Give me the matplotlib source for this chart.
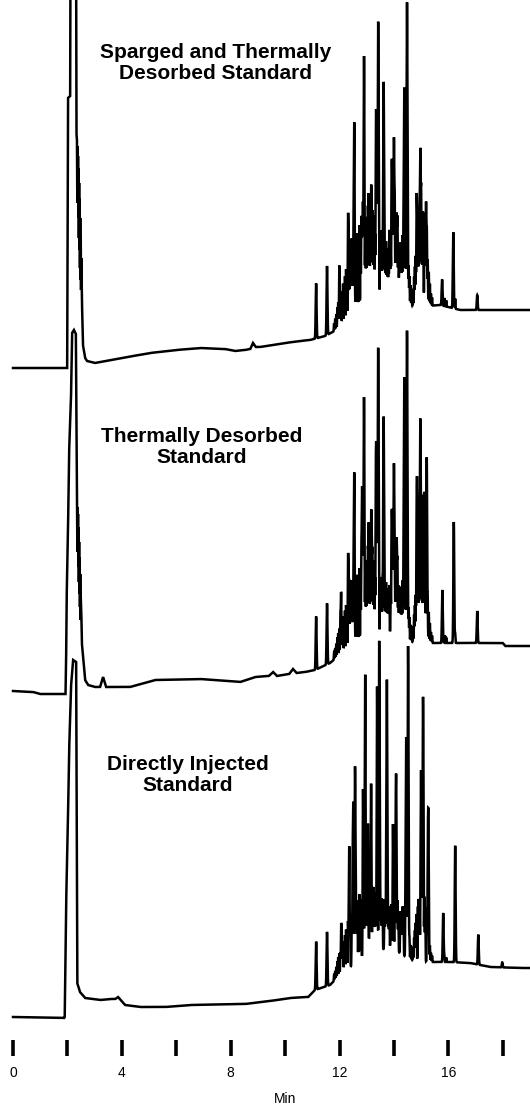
import numpy as np
import matplotlib
matplotlib.use("Agg")
import matplotlib.pyplot as plt

plt.rcParams['font.family'] = ['Liberation Sans', 'DejaVu Sans']

# ---------------- data (retention time in min, detector response in arbitrary units) ----------------
titles = ["Sparged and Thermally\nDesorbed Standard",
          "Thermally Desorbed\nStandard",
          "Directly Injected\nStandard"]

# Top trace: sparged and thermally desorbed standard
top_base_t = [0, 1.99, 2.02, 2.10, 2.13, 2.31, 2.33, 2.35, 2.36, 2.37, 2.38, 2.39, 2.40, 2.41, 2.42, 2.43,
              2.44, 2.45, 2.46, 2.47, 2.48, 2.49, 2.50, 2.51, 2.53, 2.57, 2.65, 2.72, 3.01, 4.0, 5.04, 6.0,
              6.88, 7.79, 8.16, 8.53, 8.72, 8.82, 8.92, 9.08, 10.0, 10.55, 10.92, 11.47, 12.02, 12.76,
              13.49, 14.23, 14.71, 15.7, 16.43, 17.17, 19.0]
top_base_y = [0, 0, 270, 272, 600, 600, 235, 228, 180, 222, 165, 212, 150, 200, 130, 185,
              118, 170, 100, 150, 88, 130, 78, 110, 71, 23, 10, 7, 5, 10, 15, 18,
              20, 19, 17, 18, 19, 25, 21, 21, 25, 27, 28, 32, 40, 55,
              65, 70, 61, 63, 58, 58, 58]
top_pk_t = [11.14, 11.54, 12.00, 12.33, 12.42, 12.54, 12.83, 12.90, 13.07, 13.18, 13.35, 13.42, 13.62,
            13.85, 13.93, 14.00, 14.10, 14.20, 14.38, 14.48, 14.85, 14.97, 15.18, 15.77, 16.18, 17.06]
top_pk_h = [55, 69, 38, 92, 67, 195, 85, 255, 115, 86, 185, 282, 220,
            34, 133, 162, 86, 35, 213, 300, 94, 158, 104, 26, 76, 15]

# Middle trace: thermally desorbed standard
mid_base_t = [0, 0.74, 0.99, 1.93, 1.95, 1.97, 2.02, 2.06, 2.13, 2.17, 2.24, 2.31, 2.35, 2.36, 2.37, 2.38,
              2.39, 2.40, 2.41, 2.42, 2.43, 2.44, 2.45, 2.46, 2.47, 2.48, 2.49, 2.51, 2.53, 2.65, 2.76,
              3.01, 3.20, 3.31, 3.42, 4.30, 5.22, 6.88, 8.35, 8.90, 9.40, 9.56, 9.70, 10.15, 10.29,
              10.42, 10.74, 11.10, 11.65, 12.02, 12.39, 12.76, 13.13, 13.49, 13.86, 14.23, 14.60,
              14.96, 15.33, 18.00, 18.09, 19.0]
mid_base_y = [1, 0, -2, -2, 27, 92, 159, 239, 292, 359, 362, 358, 192, 160, 185, 140,
              178, 125, 165, 110, 150, 98, 135, 85, 118, 72, 95, 80, 49, 12, 7,
              5, 5, 15, 5, 5, 12, 13, 10, 15, 16, 20, 16, 18, 23,
              19, 20, 22, 29, 37, 39, 45, 50, 50, 59, 55, 49,
              52, 49, 49, 46, 46]
mid_pk_t = [11.14, 11.54, 12.05, 12.33, 12.42, 12.54, 12.83, 12.90, 13.07, 13.18, 13.35, 13.42, 13.62,
            13.93, 14.00, 14.10, 14.20, 14.38, 14.48, 14.85, 14.97, 15.10, 15.20, 15.78, 16.20, 17.06]
mid_pk_h = [53, 61, 35, 86, 56, 178, 159, 248, 120, 112, 192, 294, 222,
            117, 171, 98, 44, 262, 310, 158, 221, 130, 147, 53, 121, 32]

# Bottom trace: directly injected standard
bot_base_t = [0, 1.88, 1.90, 1.95, 2.02, 2.06, 2.13, 2.21, 2.32, 2.34, 2.36, 2.46, 2.65, 3.20, 3.57,
              3.76, 3.86, 3.96, 4.12, 4.67, 5.59, 6.51, 8.53, 9.45, 10.18, 10.85, 11.10, 11.65, 12.02,
              12.39, 12.76, 13.13, 13.49, 13.86, 14.23, 14.60, 15.33, 16.07, 16.80, 17.54, 18.64, 19.0]
bot_base_y = [0, -1, 0, 110, 197, 264, 330, 357, 355, 200, 34, 25, 19, 17, 18,
              18, 20, 17, 12, 10, 10, 12, 13, 16, 19, 20, 27, 32, 42,
              50, 57, 60, 67, 70, 64, 57, 55, 55, 54, 50, 49, 49]
bot_pk_t = [11.14, 11.54, 12.07, 12.35, 12.50, 12.57, 12.87, 12.94, 13.05, 13.16, 13.38, 13.46, 13.74,
            13.97, 14.08, 14.45, 14.52, 14.99, 15.07, 15.26, 15.81, 16.25, 17.10, 17.98]
bot_pk_h = [48, 54, 28, 85, 127, 197, 121, 237, 85, 114, 204, 278, 232,
            87, 172, 175, 290, 139, 198, 149, 49, 109, 30, 5]

# Unresolved minor components (dense region), shared pattern
minor_t = [11.80, 11.84, 11.88, 11.92, 11.95, 11.99, 12.03, 12.06, 12.10, 12.13, 12.17, 12.20, 12.24,
           12.27, 12.31, 12.36, 12.39, 12.45, 12.48, 12.51, 12.60, 12.63, 12.66, 12.70, 12.73, 12.77,
           12.80, 12.86, 12.95, 12.98, 13.01, 13.04, 13.10, 13.13, 13.16, 13.21, 13.24, 13.27, 13.30,
           13.33, 13.38, 13.45, 13.49, 13.52, 13.55, 13.58, 13.65, 13.68, 13.71, 13.74, 13.77, 13.80,
           13.83, 13.88, 13.91, 13.96, 14.03, 14.06, 14.13, 14.16, 14.23, 14.26, 14.29, 14.32, 14.35,
           14.42, 14.45, 14.51, 14.54, 14.57, 14.61, 14.65, 14.70, 14.74, 14.77, 14.80, 14.83, 14.88,
           14.91, 14.94, 15.00, 15.03, 15.06, 15.08, 15.12, 15.15, 15.21, 15.24, 15.28, 15.32, 15.36,
           15.40, 15.85, 15.92, 16.25]
minor_h = [8, 12, 16, 22, 26, 30, 28, 36, 32, 42, 38, 48, 54,
           44, 58, 62, 56, 68, 60, 64, 74, 82, 70, 78, 88, 72,
           80, 84, 90, 78, 92, 80, 74, 86, 78, 80, 90, 76, 70,
           78, 82, 66, 72, 62, 68, 58, 66, 54, 60, 48, 52, 44,
           54, 42, 58, 64, 74, 62, 66, 54, 46, 56, 48, 64, 58,
           52, 60, 46, 38, 28, 20, 14, 18, 30, 40, 50, 62, 72,
           82, 76, 90, 80, 86, 78, 84, 72, 58, 46, 34, 22, 12,
           8, 8, 6, 10]
minor_scale = [1.0, 0.9, 0.75]

x_major = [0, 4, 8, 12, 16]
x_minor = [2, 6, 10, 14, 18]

# ---------------- figure ----------------
W, H = 530, 1105
fig = plt.figure(figsize=(W / 100, H / 100), dpi=100)
ax = fig.add_axes([0, 49 / H, 1, 1056 / H])
ax.set_xlim(-0.478, 19.0)
ax.set_ylim(0, 1056)

offsets = [688, 364, 39]
traces = [(top_base_t, top_base_y, top_pk_t, top_pk_h),
          (mid_base_t, mid_base_y, mid_pk_t, mid_pk_h),
          (bot_base_t, bot_base_y, bot_pk_t, bot_pk_h)]

grid = np.arange(0, 19.0001, 0.001)
for k, (bt, by, pt, ph) in enumerate(traces):
    t = np.union1d(grid, np.array(bt))
    y = np.interp(t, bt, by).astype(float)
    for c, h in zip(pt, ph):
        y += h * np.exp(-0.5 * ((t - c) / 0.016) ** 2)
    for c, h in zip(minor_t, minor_h):
        y += minor_scale[k] * h * np.exp(-0.5 * ((t - c) / 0.009) ** 2)
    ax.plot(t, y + offsets[k], color='black', lw=1.8, solid_joinstyle='miter')

text_pos = [(7.43, 993), (6.95, 609), (6.43, 281)]
for (tx, ty), s in zip(text_pos, titles):
    ax.text(tx, ty, s, ha='center', va='center', fontsize=15, fontweight='bold',
            linespacing=1.15)

for sp in ax.spines.values():
    sp.set_visible(False)
ax.set_yticks([])
ax.set_xticks(x_major)
ax.set_xticklabels([str(v) for v in x_major])
ax.set_xticks(x_minor, minor=True)
ax.tick_params(axis='x', which='both', direction='in', length=11.5, width=2.6,
               color='black', labelsize=10, pad=7)
ax.set_xlabel('Min', fontsize=10)
ax.xaxis.set_label_coords(0.538, -0.034)

fig.savefig('out.png', dpi=100)
